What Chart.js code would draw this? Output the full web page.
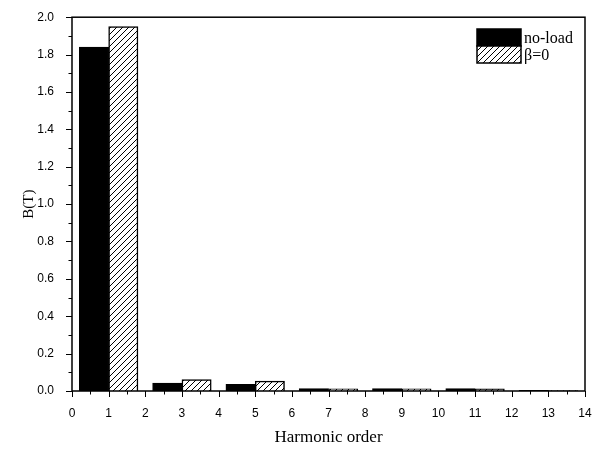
<!DOCTYPE html>
<html>
<head>
<meta charset="utf-8">
<script src="https://cdn.jsdelivr.net/npm/chart.js@4"></script>
<style>
  body { margin: 0; background: #fff; }
  #wrap { width: 593px; height: 454px; }
</style>
</head>
<body>
<div id="wrap"><canvas id="harmChart" width="593" height="454"></canvas></div>
<script>
// harmonic orders and flux density amplitudes (T)
const orders = [1, 3, 5, 7, 9, 11, 13];
const noLoad = [1.84, 0.043, 0.036, 0.013, 0.013, 0.013, 0.003];
const beta0 = [1.95, 0.061, 0.053, 0.012, 0.012, 0.011, 0.002];
const seriesNames = ['no-load', 'β=0'];

// diagonal hatch fill
function hatch() {
    const c = document.createElement('canvas');
    c.width = 6; c.height = 6;
    const g = c.getContext('2d');
    g.fillStyle = '#fff';
    g.fillRect(0, 0, 6, 6);
    g.strokeStyle = '#000';
    g.lineWidth = 1;
    g.beginPath();
    g.moveTo(-1, 7); g.lineTo(7, -1);
    g.moveTo(-1, 1); g.lineTo(1, -1);
    g.moveTo(5, 7); g.lineTo(7, 5);
    g.stroke();
    return g.createPattern(c, 'repeat');
}
const hatchFill = hatch();

// frame, major/minor tick marks, legend box
const framePlugin = {
    id: 'frame',
    afterDraw(chart) {
        const { ctx, chartArea: a, scales: { x, y } } = chart;
        ctx.save();
        ctx.strokeStyle = '#000';
        ctx.lineWidth = 1.5;
        ctx.strokeRect(a.left, a.top, a.right - a.left, a.bottom - a.top);
        ctx.lineWidth = 1;
        ctx.beginPath();
        for (let i = 0; i <= 28; i++) {
            const px = Math.round(x.getPixelForValue(i / 2)) + 0.5;
            const len = i % 2 === 0 ? 6 : 3.5;
            ctx.moveTo(px, a.bottom);
            ctx.lineTo(px, a.bottom + len);
        }
        for (let i = 0; i <= 20; i++) {
            const py = Math.round(y.getPixelForValue(i / 10)) + 0.5;
            const len = i % 2 === 0 ? 6 : 3.5;
            ctx.moveTo(a.left, py);
            ctx.lineTo(a.left - len, py);
        }
        ctx.stroke();

        // legend
        const bx = 477, by = 29, bw = 44, bh = 17;
        chart.data.datasets.forEach((ds, i) => {
            const top = by + i * bh;
            ctx.fillStyle = ds.backgroundColor;
            ctx.fillRect(bx, top, bw, bh);
            ctx.lineWidth = 1.5;
            ctx.strokeRect(bx, top, bw, bh);
            ctx.fillStyle = '#000';
            ctx.font = '16px "Liberation Serif"';
            ctx.textBaseline = 'middle';
            ctx.fillText(ds.label, bx + bw + 3, top + bh / 2 + 1);
        });
        ctx.restore();
    }
};

const ctx = document.getElementById('harmChart').getContext('2d');
new Chart(ctx, {
    type: 'bar',
    data: {
        datasets: [
            {
                label: seriesNames[0],
                data: orders.map((o, i) => ({ x: o, y: noLoad[i] })),
                backgroundColor: '#000',
                borderColor: '#000',
                borderWidth: 1
            },
            {
                label: seriesNames[1],
                data: orders.map((o, i) => ({ x: o, y: beta0[i] })),
                backgroundColor: hatchFill,
                borderColor: '#000',
                borderWidth: 1.5
            }
        ]
    },
    options: {
        responsive: false,
        animation: false,
        barThickness: 'flex',
        categoryPercentage: 0.8,
        barPercentage: 1.0,
        layout: { padding: { top: 16, right: 8, left: 0, bottom: 0 } },
        plugins: {
            legend: { display: false },
            tooltip: { enabled: false }
        },
        scales: {
            x: {
                type: 'linear',
                offset: false,
                min: 0,
                max: 14,
                grid: { display: false },
                border: { display: false },
                ticks: {
                    stepSize: 1,
                    padding: 7,
                    color: '#000',
                    font: { family: '"Liberation Sans"', size: 12 },
                    maxRotation: 0
                },
                title: {
                    display: true,
                    text: 'Harmonic order',
                    color: '#000',
                    font: { family: '"Liberation Serif"', size: 17 },
                    padding: { top: 12, bottom: 6 }
                },
                afterFit(s) {
                    s.height = 63;
                    s.paddingLeft = 0;
                    s.paddingRight = 0;
                }
            },
            y: {
                min: 0,
                max: 2,
                grid: { display: false },
                border: { display: false },
                ticks: {
                    stepSize: 0.2,
                    padding: 10,
                    color: '#000',
                    font: { family: '"Liberation Sans"', size: 12 },
                    callback: v => v.toFixed(1)
                },
                title: {
                    display: true,
                    text: 'B(T)',
                    color: '#000',
                    font: { family: '"Liberation Serif"', size: 15 },
                    padding: { top: 20, bottom: 8 }
                },
                afterFit(s) { s.width = 72; }
            }
        }
    },
    plugins: [framePlugin]
});
</script>
</body>
</html>
